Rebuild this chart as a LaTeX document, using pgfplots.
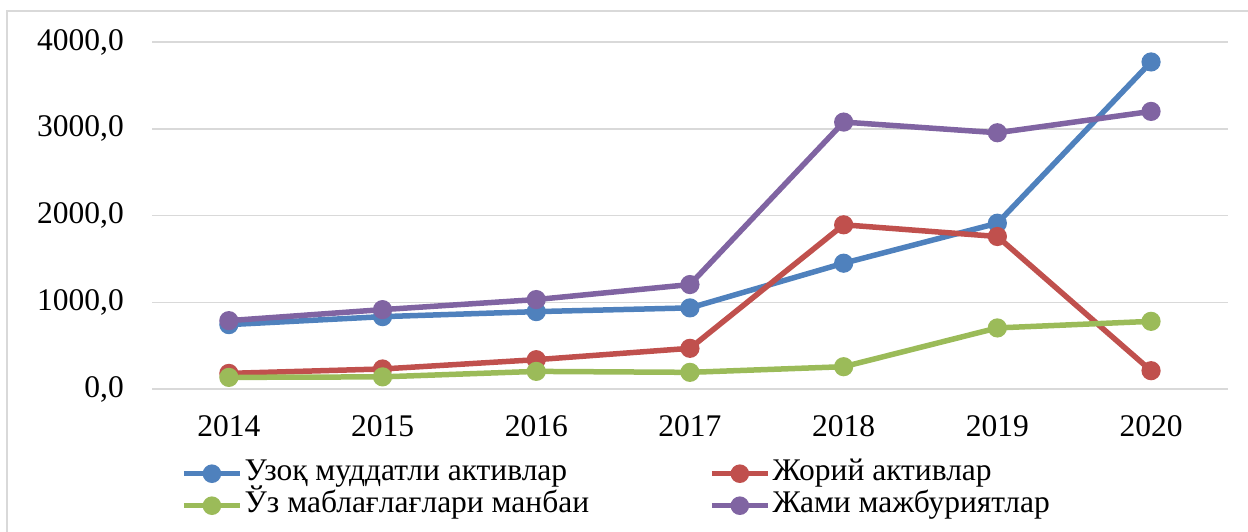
\documentclass[border=0pt]{standalone}
\usepackage{fontspec}
\setmainfont{Liberation Serif}
\usepackage{pgfplots}
\pgfplotsset{compat=1.18}
\definecolor{cBlue}{HTML}{4F81BD}
\definecolor{cRed}{HTML}{C0504D}
\definecolor{cGreen}{HTML}{9BBB59}
\definecolor{cPurple}{HTML}{8064A2}
\definecolor{cGrid}{HTML}{D9D9D9}
\begin{document}
\begin{tikzpicture}[x=1pt,y=1pt]
\useasboundingbox (0,0) rectangle (1248,531);
\draw[cGrid, line width=1.5pt] (7,-10) -- (7,520) -- (1260,520);
\begin{axis}[
  at={(152pt,142pt)}, anchor=south west,
  scale only axis, width=1076pt, height=347pt,
  xmin=2013.5, xmax=2020.5, ymin=0, ymax=4000,
  xtick={2014,2015,2016,2017,2018,2019,2020},
  xticklabels={2014,2015,2016,2017,2018,2019,2020},
  ytick={0,1000,2000,3000,4000},
  ymajorgrids, grid style={cGrid, line width=1.5pt},
  axis line style={draw=none},
  major tick length=0pt,
  tick label style={font=\fontsize{31.5}{36}\selectfont},
  yticklabel style={anchor=east, inner sep=0pt, xshift=-28pt},
  xticklabel style={anchor=north, inner sep=0pt, yshift=-26pt},
  /pgf/number format/.cd, use comma, fixed, fixed zerofill, precision=1, 1000 sep={}, assume math mode=true,
  /pgfplots/.cd,
  every axis plot/.append style={line width=5.5pt, mark=*, mark size=6.8pt, mark options={solid, line width=1pt}},
  legend columns=2,
  legend style={at={(0.02695,-0.2003)}, anchor=north west, draw=none, fill=none, inner sep=0pt,
    font=\fontsize{31.5}{36}\selectfont,
    nodes={inner xsep=2pt, inner ysep=0pt, text height=22pt, text depth=8pt},
    row sep=2pt,
    /tikz/every even column/.append style={column sep=118pt}},
  legend cell align=left,
  legend image code/.code={\draw[#1, mark size=6.5pt, mark repeat=2, mark phase=2] plot coordinates {(0pt,0pt) (28pt,0pt) (56pt,0pt)};},
]
\addplot[color=cBlue, mark options={fill=cBlue}] coordinates {(2014,742) (2015,834) (2016,892) (2017,935) (2018,1450) (2019,1911) (2020,3770)};
\addlegendentry{Узоқ муддатли активлар}
\addplot[color=cRed, mark options={fill=cRed}] coordinates {(2014,180) (2015,231) (2016,338) (2017,469) (2018,1893) (2019,1758) (2020,211)};
\addlegendentry{Жорий активлар}
\addplot[color=cGreen, mark options={fill=cGreen}] coordinates {(2014,134) (2015,140) (2016,203) (2017,192) (2018,257) (2019,704) (2020,780)};
\addlegendentry{Ўз маблағлағлари манбаи}
\addplot[color=cPurple, mark options={fill=cPurple}] coordinates {(2014,788) (2015,915) (2016,1031) (2017,1204) (2018,3077) (2019,2954) (2020,3200)};
\addlegendentry{Жами мажбуриятлар}
\end{axis}
\end{tikzpicture}
\end{document}
